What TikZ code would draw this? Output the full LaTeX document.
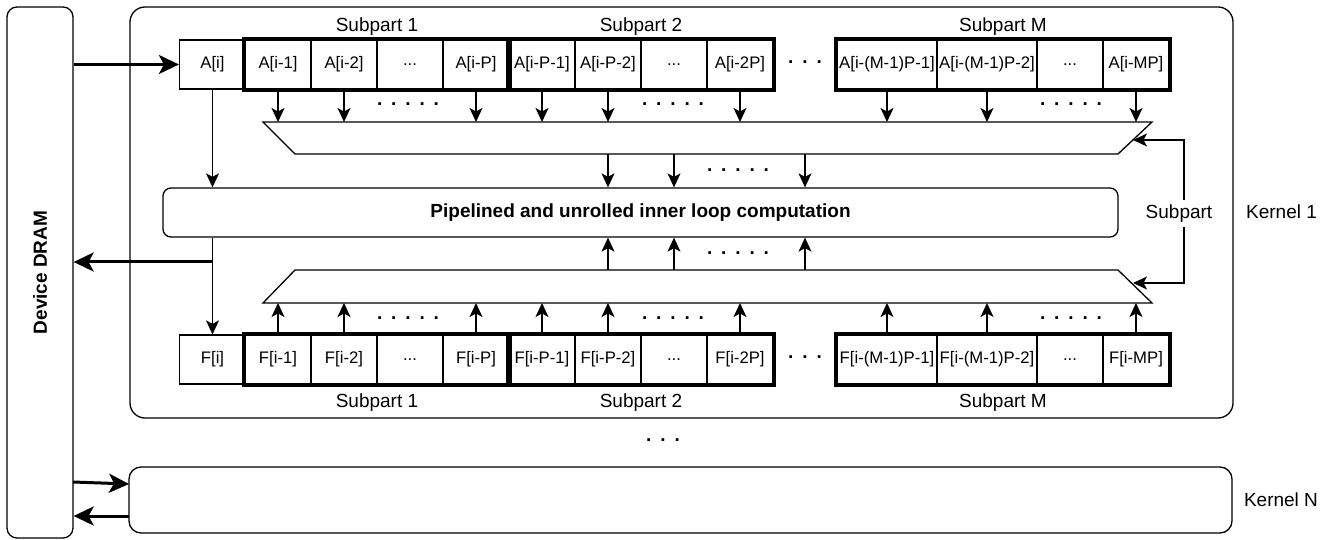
\documentclass[tikz,border=0pt]{standalone}
\usepackage{fontspec}
\setmainfont{Liberation Sans}
\usetikzlibrary{arrows.meta}
\newcommand{\cellsize}{\fontsize{16.7}{19}\selectfont}
\newcommand{\labsize}{\fontsize{19}{22}\selectfont}
\newcommand{\fivedots}{.\hskip8.9pt.\hskip8.9pt.\hskip8.9pt.\hskip8.9pt.}
\newcommand{\threedots}{.\hskip8.9pt.\hskip8.9pt.}
\tikzset{
  cell/.style={draw,line width=1.2pt,minimum width=66pt,minimum height=49pt,inner sep=0pt,font=\cellsize},
  wcell/.style={cell,minimum width=100pt},
  subgrp/.style={draw,line width=4pt},
  lab/.style={font=\labsize,inner sep=1pt},
  kbox/.style={draw,line width=1.3pt,inner sep=0pt},
  muxline/.style={draw,line width=1.3pt,line join=miter},
  dotrow/.style={font=\bfseries\labsize,anchor=base,inner sep=0pt},
  arr/.style={line width=1.3pt,-{Stealth[length=14pt,width=13pt,inset=3.5pt]}},
  biarr/.style={line width=1.3pt,{Stealth[length=14pt,width=13pt,inset=3.5pt]}-{Stealth[length=14pt,width=13pt,inset=3.5pt]}},
  bigarr/.style={line width=3pt,-{Stealth[length=20pt,width=19pt,inset=5pt]}},
}

\begin{document}
\begin{tikzpicture}[x=1pt,y=-1pt]
  \useasboundingbox (0,0) rectangle (1334,540);
  \node[kbox,rounded corners=10pt,minimum width=66pt,minimum height=531pt] (dram) at (40,272.5) {};
  \node[font=\bfseries\labsize,rotate=90] (dramlab) at (dram.center) {Device DRAM};
  \node[kbox,rounded corners=15pt,minimum width=1103pt,minimum height=411pt] (kern1) at (681.5,212.5) {};
  \node[kbox,rounded corners=12pt,minimum width=1103pt,minimum height=66pt] (kernN) at (680.5,500) {};
  \node[lab] (kern1lab) at (1281.5,211.5) {Kernel 1};
  \node[lab] (kernNlab) at (1281,499.5) {Kernel N};
  \node[dotrow] (tdK) at (663,441.5) {\threedots};
  \node[kbox,rounded corners=8pt,minimum width=955pt,minimum height=49pt,font=\bfseries\labsize] (comp) at (640.5,212.5) {Pipelined and unrolled inner loop computation};

  \node[cell] (ai) at (212.5,64.5) {A[i]};
  \node[cell] (a1) at (278,64.5) {A[i-1]};
  \node[cell] (a2) at (344,64.5) {A[i-2]};
  \node[cell] (a3) at (410,64.5) {...};
  \node[cell] (a4) at (476,64.5) {A[i-P]};
  \node[cell] (a5) at (542,64.5) {A[i-P-1]};
  \node[cell] (a6) at (608,64.5) {A[i-P-2]};
  \node[cell] (a7) at (674,64.5) {...};
  \node[cell] (a8) at (740,64.5) {A[i-2P]};
  \node[wcell] (a9) at (887,64.5) {A[i-(M-1)P-1]};
  \node[wcell] (a10) at (987,64.5) {A[i-(M-1)P-2]};
  \node[cell] (a11) at (1070,64.5) {...};
  \node[cell] (a12) at (1136,64.5) {A[i-MP]};
  \draw[subgrp] (a1.north west) rectangle (a4.south east);
  \draw[subgrp] (a5.north west) rectangle (a8.south east);
  \draw[subgrp] (a9.north west) rectangle (a12.south east);
  \node[lab] (s1top) at (377,27) {Subpart 1};
  \node[lab] (s2top) at (641,27) {Subpart 2};
  \node[lab] (sMtop) at (1003,27) {Subpart M};
  \node[dotrow] (tdA) at (805,63.5) {\threedots};

  \node[cell] (fi) at (212.5,359.5) {F[i]};
  \node[cell] (f1) at (278,359.5) {F[i-1]};
  \node[cell] (f2) at (344,359.5) {F[i-2]};
  \node[cell] (f3) at (410,359.5) {...};
  \node[cell] (f4) at (476,359.5) {F[i-P]};
  \node[cell] (f5) at (542,359.5) {F[i-P-1]};
  \node[cell] (f6) at (608,359.5) {F[i-P-2]};
  \node[cell] (f7) at (674,359.5) {...};
  \node[cell] (f8) at (740,359.5) {F[i-2P]};
  \node[wcell] (f9) at (887,359.5) {F[i-(M-1)P-1]};
  \node[wcell] (f10) at (987,359.5) {F[i-(M-1)P-2]};
  \node[cell] (f11) at (1070,359.5) {...};
  \node[cell] (f12) at (1136,359.5) {F[i-MP]};
  \draw[subgrp] (f1.north west) rectangle (f4.south east);
  \draw[subgrp] (f5.north west) rectangle (f8.south east);
  \draw[subgrp] (f9.north west) rectangle (f12.south east);
  \node[lab] (s1bot) at (377,403) {Subpart 1};
  \node[lab] (s2bot) at (641,403) {Subpart 2};
  \node[lab] (sMbot) at (1003,403) {Subpart M};
  \node[dotrow] (tdF) at (805,358.5) {\threedots};

  \coordinate (mA-nw) at (263,122);
  \coordinate (mA-ne) at (1152,122);
  \coordinate (mA-se) at (1118,154);
  \coordinate (mA-sw) at (295,154);
  \coordinate (mF-nw) at (295,270);
  \coordinate (mF-ne) at (1118,270);
  \coordinate (mF-se) at (1152,303);
  \coordinate (mF-sw) at (263,303);
  \draw[muxline] (mA-nw) -- (mA-ne) -- (mA-se) -- (mA-sw) -- cycle;
  \draw[muxline] (mF-nw) -- (mF-ne) -- (mF-se) -- (mF-sw) -- cycle;

  \draw[arr] (a1.south) -- (a1.south |- mA-nw);
  \draw[arr] (a2.south) -- (a2.south |- mA-nw);
  \draw[arr] (a4.south) -- (a4.south |- mA-nw);
  \draw[arr] (a5.south) -- (a5.south |- mA-nw);
  \draw[arr] (a6.south) -- (a6.south |- mA-nw);
  \draw[arr] (a8.south) -- (a8.south |- mA-nw);
  \draw[arr] (a9.south) -- (a9.south |- mA-nw);
  \draw[arr] (a10.south) -- (a10.south |- mA-nw);
  \draw[arr] (a12.south) -- (a12.south |- mA-nw);
  \node[dotrow] (dA1) at (408,105.5) {\fivedots};
  \node[dotrow] (dA2) at (673,105.5) {\fivedots};
  \node[dotrow] (dA3) at (1071,105.5) {\fivedots};

  \draw[arr] (a6 |- mA-sw) -- (a6 |- comp.north);
  \draw[arr] (a7 |- mA-sw) -- (a7 |- comp.north);
  \draw[arr] (tdA |- mA-sw) -- (tdA |- comp.north);
  \node[dotrow] (dAo) at (738,171.5) {\fivedots};

  \draw[arr] (f6 |- mF-nw) -- (f6 |- comp.south);
  \draw[arr] (f7 |- mF-nw) -- (f7 |- comp.south);
  \draw[arr] (tdF |- mF-nw) -- (tdF |- comp.south);
  \node[dotrow] (dFo) at (738,255) {\fivedots};

  \draw[arr] (f1.north) -- (f1.north |- mF-sw);
  \draw[arr] (f2.north) -- (f2.north |- mF-sw);
  \draw[arr] (f4.north) -- (f4.north |- mF-sw);
  \draw[arr] (f5.north) -- (f5.north |- mF-sw);
  \draw[arr] (f6.north) -- (f6.north |- mF-sw);
  \draw[arr] (f8.north) -- (f8.north |- mF-sw);
  \draw[arr] (f9.north) -- (f9.north |- mF-sw);
  \draw[arr] (f10.north) -- (f10.north |- mF-sw);
  \draw[arr] (f12.north) -- (f12.north |- mF-sw);
  \node[dotrow] (dF1) at (408,319.5) {\fivedots};
  \node[dotrow] (dF2) at (673,319.5) {\fivedots};
  \node[dotrow] (dF3) at (1071,319.5) {\fivedots};

  \coordinate (fbA) at (1133,140);
  \coordinate (fbF) at (1133,283);
  \coordinate (fbx) at (1184,212);
  \draw[biarr] (fbA) -- (fbA -| fbx) -- (fbF -| fbx) -- (fbF);
  \node[lab,fill=white,inner sep=5pt] (sublab) at (1179,213.5) {Subpart};

  \draw[arr] (ai.south) -- (ai.south |- comp.north);
  \coordinate (split) at (212.5,262);
  \draw[arr] (comp.south -| fi.north) -- (fi.north);
  \draw[bigarr] (split) -- (split -| dram.east);
  \draw[bigarr] (dram.east |- ai.west) -- (ai.west);

  \coordinate (dNout) at (73,482);
  \coordinate (kNin) at (129,484);
  \coordinate (kNout) at (129,516);
  \draw[bigarr] (dNout) -- (kNin);
  \draw[bigarr] (kNout) -- (kNout -| dram.east);
\end{tikzpicture}
\end{document}
